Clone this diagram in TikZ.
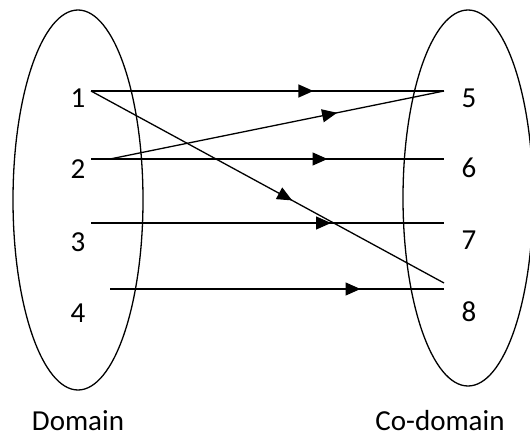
\documentclass[tikz,border=0pt]{standalone}
\usepackage{fontspec}
\setmainfont{Carlito}
\usetikzlibrary{arrows.meta, decorations.markings}

\tikzset{
  lbl/.style={font=\fontsize{29}{34}\selectfont, inner sep=0pt, anchor=base},
  mapline/.style={line width=1.3pt, postaction={decorate},
    decoration={markings, mark=at position #1 with {\arrow{Triangle[length=15pt,width=13pt]}}}}
}

\begin{document}
\begin{tikzpicture}[x=1pt, y=-1pt]
\useasboundingbox (0,0) rectangle (530,436);

% sets
\draw[line width=1.3pt] (78,200) ellipse [x radius=65, y radius=190];
\draw[line width=1.3pt] (468,198) ellipse [x radius=65, y radius=188];

% domain elements
\node[lbl] (n1) at (78,107) {1};
\node[lbl] (n2) at (78,178) {2};
\node[lbl] (n3) at (78,251) {3};
\node[lbl] (n4) at (78,322) {4};

% co-domain elements
\node[lbl] (n5) at (469,107) {5};
\node[lbl] (n6) at (469,177) {6};
\node[lbl] (n7) at (469,249) {7};
\node[lbl] (n8) at (469,321) {8};

\node[lbl] (dom) at (78,430) {Domain};
\node[lbl] (cod) at (440,430) {Co-domain};

% line ends
\coordinate (a1) at (91,91);
\coordinate (a2) at (91,159);
\coordinate (a2b) at (110,159);
\coordinate (a3) at (91,223);
\coordinate (a4) at (110,289);
\coordinate (b5) at (444,91);
\coordinate (b6) at (444,159);
\coordinate (b7) at (444,223);
\coordinate (b8) at (444,283);
\coordinate (b8b) at (444,289);

% mappings
\draw[mapline=0.63] (a1) -- (b5);
\draw[mapline=0.57] (a1) -- (b8);
\draw[mapline=0.68] (a2b) -- (b5);
\draw[mapline=0.67] (a2) -- (b6);
\draw[mapline=0.68] (a3) -- (b7);
\draw[mapline=0.75] (a4) -- (b8b);
\end{tikzpicture}
\end{document}
